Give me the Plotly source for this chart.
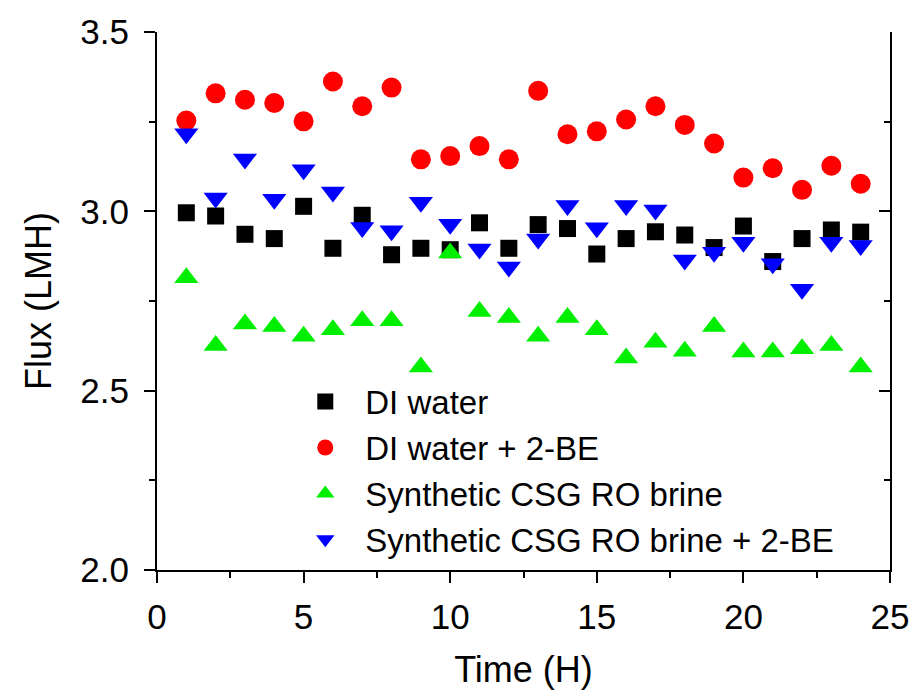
import plotly.graph_objects as go

time_h = list(range(1, 25))

di_water = [2.996, 2.987, 2.936, 2.924, 3.014, 2.897, 2.989, 2.879, 2.897, 2.893, 2.968, 2.897,
            2.963, 2.952, 2.881, 2.924, 2.943, 2.934, 2.899, 2.959, 2.860, 2.924, 2.948, 2.942]
di_water_2be = [3.253, 3.329, 3.311, 3.302, 3.251, 3.362, 3.293, 3.345, 3.145, 3.154, 3.182, 3.145,
                3.336, 3.215, 3.223, 3.256, 3.293, 3.241, 3.189, 3.094, 3.120, 3.060, 3.127, 3.077]
csg_brine = [2.815, 2.626, 2.686, 2.679, 2.652, 2.670, 2.695, 2.695, 2.566, 2.884, 2.721, 2.704,
             2.652, 2.704, 2.670, 2.591, 2.635, 2.610, 2.679, 2.608, 2.608, 2.617, 2.626, 2.566]
csg_brine_2be = [3.216, 3.037, 3.146, 3.034, 3.116, 3.054, 2.955, 2.946, 3.025, 2.964, 2.895, 2.845,
                 2.923, 3.016, 2.954, 3.016, 3.004, 2.864, 2.886, 2.914, 2.854, 2.783, 2.914, 2.905]

series_names = ["DI water", "DI water + 2-BE", "Synthetic CSG RO brine", "Synthetic CSG RO brine + 2-BE"]
series_values = [di_water, di_water_2be, csg_brine, csg_brine_2be]
symbols = ["square", "circle", "triangle-up", "triangle-down"]
colors = ["#000000", "#FF0000", "#00EE00", "#0000FF"]
sizes = [17, 20, 21, 21]

FONT = "Arial, 'Liberation Sans', sans-serif"

fig = go.Figure()
for name, vals, sym, col, sz in zip(series_names, series_values, symbols, colors, sizes):
    fig.add_trace(go.Scatter(
        x=time_h, y=vals, mode="markers", name=name,
        marker=dict(symbol=sym, color=col, size=sz, line=dict(width=0)),
    ))

# invisible trace on the mirrored right axis
fig.add_trace(go.Scatter(x=[None], y=[None], yaxis="y2", showlegend=False, hoverinfo="skip"))

axis_common = dict(
    showgrid=False, zeroline=False, showline=True, linecolor="black", linewidth=2,
    ticks="outside", ticklen=11, tickwidth=2, tickcolor="black",
    tickfont=dict(family=FONT, size=35, color="black"),
)

fig.update_layout(
    width=921, height=695,
    margin=dict(l=157, r=24, t=31, b=121),
    paper_bgcolor="white", plot_bgcolor="white",
    font=dict(family=FONT, color="black"),
    xaxis=dict(
        range=[0, 25], dtick=5, tick0=0,
        minor=dict(dtick=2.5, ticks="outside", ticklen=6, tickwidth=2, tickcolor="black"),
        title=dict(text="Time (H)", font=dict(family=FONT, size=36), standoff=22),
        ticklabelstandoff=4,
        **axis_common,
    ),
    yaxis=dict(
        range=[2.0, 3.5], dtick=0.5, tick0=2.0, tickformat=".1f",
        minor=dict(dtick=0.25, ticks="outside", ticklen=6, tickwidth=2, tickcolor="black"),
        title=dict(text="Flux (LMH)", font=dict(family=FONT, size=36), standoff=18),
        ticklabelstandoff=8,
        **axis_common,
    ),
    yaxis2=dict(
        overlaying="y", side="right", matches="y", range=[2.0, 3.5], dtick=0.5, tick0=2.0,
        showgrid=False, zeroline=False, showline=True, linecolor="black", linewidth=2,
        ticks="inside", ticklen=11, tickwidth=2, tickcolor="black", showticklabels=False,
        minor=dict(dtick=0.25, ticks="inside", ticklen=6, tickwidth=2, tickcolor="black"),
    ),
    legend=dict(
        x=0.175, y=0.365, xanchor="left", yanchor="top",
        bgcolor="rgba(0,0,0,0)", borderwidth=0,
        font=dict(family=FONT, size=33, color="black"),
        itemwidth=70, tracegroupgap=0,
    ),
    showlegend=True,
)

fig.write_html("out.html")
